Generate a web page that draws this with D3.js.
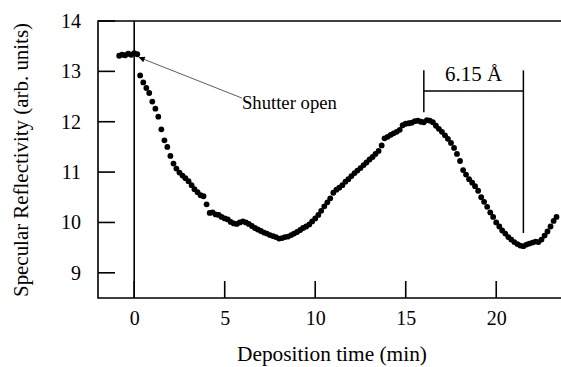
<!DOCTYPE html>
<html>
<head>
<meta charset="utf-8">
<script src="https://cdn.jsdelivr.net/npm/d3@7.9.0/dist/d3.min.js"></script>
<style>
  html, body { margin: 0; padding: 0; background: #fff; }
  svg { display: block; }
  svg text { font-family: "Liberation Serif", "Times New Roman", serif; fill: #000; }
</style>
</head>
<body>
<svg id="chart" width="561" height="367"></svg>
<script>
// deposition time (min), one reading about every 10 s
let time = [
  -0.83, -0.67, -0.5, -0.33, -0.17, 0, 0.17, 0.33, 0.5, 0.67, 0.83, 1, 1.17, 1.33, 1.5, 1.67, 1.83,
  2, 2.17, 2.33, 2.5, 2.67, 2.83, 3, 3.17, 3.33, 3.5, 3.67, 3.83, 4, 4.17, 4.33, 4.5, 4.67, 4.83,
  5, 5.17, 5.33, 5.5, 5.67, 5.83, 6, 6.17, 6.33, 6.5, 6.67, 6.83, 7, 7.17, 7.33, 7.5, 7.67, 7.83,
  8, 8.17, 8.33, 8.5, 8.67, 8.83, 9, 9.17, 9.33, 9.5, 9.67, 9.83, 10, 10.17, 10.33, 10.5, 10.67, 10.83,
  11, 11.17, 11.33, 11.5, 11.67, 11.83, 12, 12.17, 12.33, 12.5, 12.67, 12.83, 13, 13.17, 13.33, 13.5,
  13.67, 13.83, 14, 14.17, 14.33, 14.5, 14.67, 14.83, 15, 15.17, 15.33, 15.5, 15.67, 15.83, 16, 16.17,
  16.33, 16.5, 16.67, 16.83, 17, 17.17, 17.33, 17.5, 17.67, 17.83, 18, 18.17, 18.33, 18.5, 18.67, 18.83,
  19, 19.17, 19.33, 19.5, 19.67, 19.83, 20, 20.17, 20.33, 20.5, 20.67, 20.83, 21, 21.17, 21.33, 21.5,
  21.67, 21.83, 22, 22.17, 22.33, 22.5, 22.67, 22.83, 23, 23.17, 23.33
];

// specular reflectivity (arb. units)
let reflectivity = [
  13.31, 13.33, 13.32, 13.35, 13.33, 13.36, 13.34, 12.92, 12.78, 12.67, 12.57, 12.40, 12.26, 12.10, 11.85, 11.63, 11.50,
  11.32, 11.17, 11.07, 10.99, 10.93, 10.88, 10.82, 10.74, 10.66, 10.60, 10.54, 10.52, 10.36, 10.19, 10.20, 10.16, 10.15, 10.11,
  10.08, 10.06, 10.01, 9.98, 9.97, 10.00, 10.02, 10.00, 9.97, 9.93, 9.89, 9.86, 9.83, 9.80, 9.78, 9.75, 9.73, 9.71,
  9.68, 9.69, 9.71, 9.72, 9.75, 9.78, 9.81, 9.85, 9.89, 9.92, 9.96, 10.02, 10.08, 10.15, 10.23, 10.32, 10.40, 10.48,
  10.59, 10.65, 10.69, 10.74, 10.81, 10.86, 10.92, 10.98, 11.03, 11.08, 11.14, 11.19, 11.25, 11.30, 11.36, 11.42,
  11.53, 11.67, 11.70, 11.74, 11.77, 11.80, 11.84, 11.93, 11.96, 11.97, 11.98, 12.01, 12.02, 12.00, 11.99, 12.03,
  12.02, 11.99, 11.92, 11.86, 11.80, 11.73, 11.66, 11.58, 11.48, 11.36, 11.22, 11.04, 10.95, 10.86, 10.79, 10.72,
  10.63, 10.50, 10.41, 10.31, 10.20, 10.11, 10.00, 9.92, 9.84, 9.78, 9.71, 9.66, 9.61, 9.57, 9.54, 9.53,
  9.56, 9.58, 9.60, 9.62, 9.61, 9.66, 9.74, 9.82, 9.92, 10.03, 10.11
];

let xTicks = [0, 5, 10, 15, 20];
let yTicks = [9, 10, 11, 12, 13, 14];

// annotations in data units
let shutterArrow = { from: [5.95, 12.47], to: [0.25, 13.28], label: 'Shutter open' };
let period = { t0: 16, t1: 21.5, top: 13.02, leftBottom: 12.19, bar: 12.61, rightBottom: 9.79, label: '6.15 Å' };

let svg = d3.select('#chart');
let m = { left: 98, top: 21, bottom: 298, right: 561.4 };

let x = d3.scaleLinear().domain([-2, 23.6]).range([m.left, m.right]);
let y = d3.scaleLinear().domain([8.5, 14]).range([m.bottom, m.top]);

let ink = '#000';
let tickLen = 17;

// axes: labels from d3.axis, tick marks drawn inside the frame below
let xAxis = svg.append('g')
  .attr('transform', `translate(0,${m.bottom})`)
  .call(d3.axisBottom(x).tickValues(xTicks).tickFormat(d3.format('d')).tickSize(0).tickPadding(13));

let yAxis = svg.append('g')
  .attr('transform', `translate(${m.left},0)`)
  .call(d3.axisLeft(y).tickValues(yTicks).tickFormat(d3.format('d')).tickSize(0).tickPadding(17));

[xAxis, yAxis].forEach((g) => {
  g.attr('font-family', null).attr('font-size', null);
  g.select('.domain').remove();
  g.selectAll('.tick line').remove();
  g.selectAll('.tick text').attr('font-size', 20);
});

let frame = svg.append('g').attr('stroke', ink).attr('stroke-width', 1.6).attr('fill', 'none');

// left, top and bottom frame lines
frame.append('path')
  .attr('d', `M561,${y(14)}H${m.left}V${y(8.5)}H561`);

// vertical line at t = 0
frame.append('path')
  .attr('d', `M${x(0)},${y(14)}V${y(8.5)}`);

// data points
svg.append('g')
  .selectAll('circle')
  .data(time)
  .join('circle')
  .attr('cx', (d) => x(d))
  .attr('cy', (d, i) => y(reflectivity[i]))
  .attr('r', 2.9)
  .attr('fill', ink);

// arrow to the shutter opening
svg.append('defs').append('marker')
  .attr('id', 'head')
  .attr('viewBox', '0 0 10 10')
  .attr('refX', 10).attr('refY', 5)
  .attr('markerWidth', 10).attr('markerHeight', 6)
  .attr('markerUnits', 'userSpaceOnUse')
  .attr('orient', 'auto')
  .append('path')
  .attr('d', 'M0,0 L10,5 L0,10 Z')
  .attr('fill', ink);

svg.append('line')
  .attr('x1', x(shutterArrow.from[0])).attr('y1', y(shutterArrow.from[1]))
  .attr('x2', x(shutterArrow.to[0])).attr('y2', y(shutterArrow.to[1]))
  .attr('stroke', '#333').attr('stroke-width', 0.8)
  .attr('marker-end', 'url(#head)');

svg.append('text')
  .attr('x', x(shutterArrow.from[0]))
  .attr('y', 109)
  .attr('font-size', 18)
  .attr('textLength', 95)
  .attr('lengthAdjust', 'spacingAndGlyphs')
  .text(shutterArrow.label);

// period bracket
let bracket = svg.append('g').attr('stroke', ink).attr('stroke-width', 1.5);
bracket.append('line')
  .attr('x1', x(period.t0)).attr('x2', x(period.t0))
  .attr('y1', y(period.top)).attr('y2', y(period.leftBottom));
bracket.append('line')
  .attr('x1', x(period.t1)).attr('x2', x(period.t1))
  .attr('y1', y(period.top)).attr('y2', y(period.rightBottom));
bracket.append('line')
  .attr('x1', x(period.t0)).attr('x2', x(period.t1))
  .attr('y1', y(period.bar)).attr('y2', y(period.bar));

svg.append('text')
  .attr('x', (x(period.t0) + x(period.t1)) / 2)
  .attr('y', 81)
  .attr('text-anchor', 'middle')
  .attr('font-size', 20)
  .attr('textLength', 57)
  .attr('lengthAdjust', 'spacingAndGlyphs')
  .text(period.label);

// axis titles
svg.append('text')
  .attr('x', 332)
  .attr('y', 361)
  .attr('text-anchor', 'middle')
  .attr('font-size', 20)
  .attr('textLength', 190)
  .attr('lengthAdjust', 'spacingAndGlyphs')
  .text('Deposition time (min)');

svg.append('text')
  .attr('transform', 'translate(28,160) rotate(-90)')
  .attr('text-anchor', 'middle')
  .attr('font-size', 20)
  .attr('textLength', 274)
  .attr('lengthAdjust', 'spacingAndGlyphs')
  .text('Specular Reflectivity (arb. units)');

// inward tick marks, drawn last
let ticks = svg.append('g').attr('fill', ink);
xTicks.forEach((d) => {
  ticks.append('rect')
    .attr('x', x(d) - 0.8).attr('y', m.bottom - tickLen)
    .attr('width', 1.6).attr('height', tickLen);
});
yTicks.forEach((d) => {
  ticks.append('rect')
    .attr('x', m.left).attr('y', y(d) - 0.8)
    .attr('width', tickLen).attr('height', 1.6);
});
</script>
</body>
</html>
